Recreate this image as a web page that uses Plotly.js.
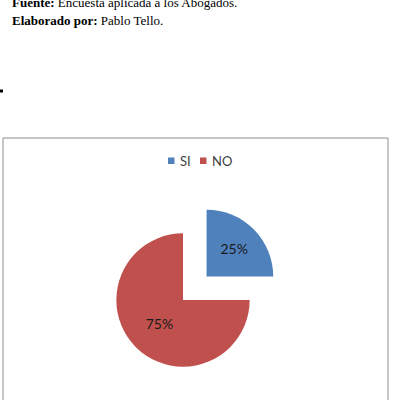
<!DOCTYPE html>
<html>
<head>
<meta charset="utf-8">
<script src="https://cdn.plot.ly/plotly-3.0.1.min.js"></script>
<style>html,body{margin:0;padding:0;background:#fff;}#chart{width:394px;height:400px;}</style>
</head>
<body>
<div id="chart"></div>
<script>
const categories = ["SI", "NO"];
const values = [25, 75];
const colors = ["#4F81BD", "#C0504D"];
const pulls = [0.5, 0];

const W = 394, H = 400;
const px = x => x / W;
const py = y => (H - y) / H;

const trace = {
  type: "pie",
  labels: categories,
  values: values,
  sort: false,
  direction: "clockwise",
  rotation: 0,
  pull: pulls,
  marker: {colors: colors, line: {width: 0}},
  textinfo: "percent",
  textposition: "inside",
  insidetextorientation: "horizontal",
  insidetextfont: {family: "Lato, 'Open Sans', sans-serif", size: 14, color: "#1a1a1a"},
  hoverinfo: "none",
  showlegend: false,
  domain: {x: [0.2107, 0.7183], y: [0, 0.5]}
};

// custom compact legend built from categories/colors
const legendFont = {family: "Lato, 'Open Sans', sans-serif", size: 13, color: "#404040"};
const legendSquares = [168, 200];
const shapes = [
  {type: "rect", xref: "paper", yref: "paper", x0: px(3), x1: px(388), y0: -0.01, y1: py(138),
   line: {color: "#8c8c8c", width: 1}, fillcolor: "rgba(0,0,0,0)"},
  {type: "rect", xref: "paper", yref: "paper", x0: 0, x1: px(3), y0: py(92.5), y1: py(89.5),
   line: {width: 0}, fillcolor: "#000"}
];
const annotations = [
  {text: "<b>Fuente:</b> Encuesta aplicada a los Abogados.", xref: "paper", yref: "paper",
   x: px(10), y: py(2), xanchor: "left", yanchor: "middle", showarrow: false,
   font: {family: "'Liberation Serif', 'Times New Roman', serif", size: 13, color: "#000"}},
  {text: "<b>Elaborado por:</b> Pablo Tello.", xref: "paper", yref: "paper",
   x: px(10), y: py(20), xanchor: "left", yanchor: "middle", showarrow: false,
   font: {family: "'Liberation Serif', 'Times New Roman', serif", size: 13, color: "#000"}}
];
categories.forEach((c, i) => {
  const sx = legendSquares[i];
  shapes.push({type: "rect", xref: "paper", yref: "paper", x0: px(sx), x1: px(sx + 6.5),
    y0: py(164), y1: py(157.5), line: {width: 0}, fillcolor: colors[i]});
  annotations.push({text: c, xref: "paper", yref: "paper", x: px(sx + 9.5), y: py(161),
    xanchor: "left", yanchor: "middle", showarrow: false, font: legendFont});
});

const layout = {
  width: W, height: H,
  margin: {l: 0, r: 0, t: 0, b: 0},
  paper_bgcolor: "#fff",
  showlegend: false,
  shapes: shapes,
  annotations: annotations
};

Plotly.newPlot("chart", [trace], layout, {displayModeBar: false, staticPlot: true});
</script>
</body>
</html>
